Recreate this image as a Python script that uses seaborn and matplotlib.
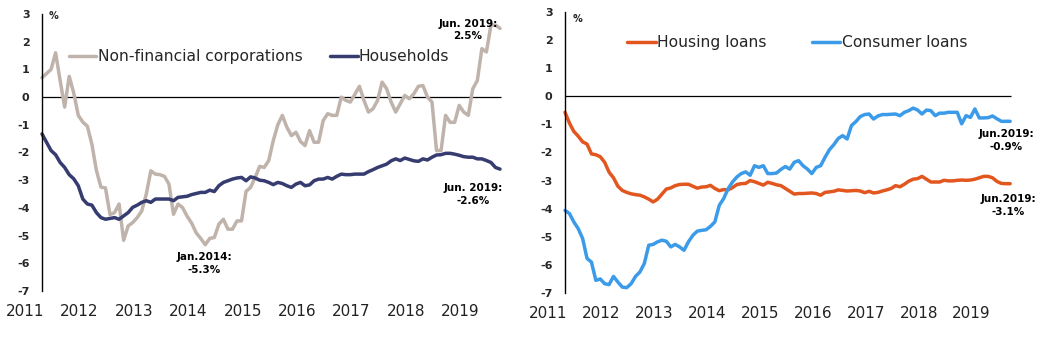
import matplotlib
matplotlib.use("Agg")
import matplotlib.pyplot as plt
import seaborn as sns
import numpy as np
import pandas as pd

# ---------------- data (monthly, Jan 2011 - Jun 2019) ----------------
years = ["2011", "2012", "2013", "2014", "2015", "2016", "2017", "2018", "2019"]

nfc = [0.70, 0.85, 1.00, 1.60, 0.60, -0.36, 0.75, 0.15, -0.66, -0.90,
       -1.05, -1.70, -2.65, -3.25, -3.28, -4.24, -4.17, -3.86, -5.17, -4.65,
       -4.53, -4.35, -4.11, -3.50, -2.66, -2.78, -2.80, -2.86, -3.14, -4.23,
       -3.86, -3.99, -4.30, -4.55, -4.90, -5.10, -5.33, -5.10, -5.07, -4.59,
       -4.41, -4.77, -4.77, -4.47, -4.47, -3.40, -3.26, -2.90, -2.50, -2.54,
       -2.29, -1.57, -1.00, -0.66, -1.09, -1.39, -1.27, -1.60, -1.75, -1.21,
       -1.63, -1.63, -0.85, -0.60, -0.66, -0.66, 0.00, -0.12, -0.18, 0.10,
       0.39, -0.12, -0.54, -0.42, -0.12, 0.54, 0.30, -0.18, -0.54, -0.24,
       0.06, -0.06, 0.12, 0.39, 0.42, 0.00, -0.18, -1.93, -1.93, -0.66,
       -0.91, -0.91, -0.30, -0.54, -0.66, 0.30, 0.60, 1.75, 1.63, 2.60,
       2.60, 2.48]

households = [-1.33, -1.63, -1.93, -2.08, -2.36, -2.54, -2.80, -2.95, -3.20, -3.68,
              -3.86, -3.90, -4.17, -4.35, -4.41, -4.38, -4.35, -4.41, -4.29, -4.17,
              -3.98, -3.90, -3.80, -3.74, -3.80, -3.68, -3.68, -3.68, -3.68, -3.74,
              -3.62, -3.60, -3.58, -3.52, -3.48, -3.44, -3.44, -3.36, -3.41, -3.20,
              -3.08, -3.02, -2.96, -2.92, -2.90, -3.02, -2.88, -2.92, -3.00, -3.02,
              -3.08, -3.16, -3.08, -3.12, -3.20, -3.26, -3.14, -3.08, -3.20, -3.17,
              -3.02, -2.96, -2.96, -2.90, -2.96, -2.86, -2.78, -2.80, -2.80, -2.78,
              -2.78, -2.78, -2.69, -2.62, -2.54, -2.48, -2.42, -2.30, -2.23, -2.29,
              -2.20, -2.25, -2.30, -2.32, -2.23, -2.27, -2.17, -2.09, -2.08, -2.03,
              -2.03, -2.06, -2.10, -2.15, -2.17, -2.17, -2.23, -2.23, -2.29, -2.36,
              -2.54, -2.60]

housing = [-0.57, -0.95, -1.25, -1.42, -1.62, -1.70, -2.05, -2.08, -2.15, -2.35,
           -2.70, -2.90, -3.20, -3.35, -3.42, -3.47, -3.50, -3.52, -3.58, -3.66,
           -3.76, -3.66, -3.48, -3.30, -3.26, -3.18, -3.14, -3.13, -3.13, -3.20,
           -3.27, -3.23, -3.22, -3.17, -3.28, -3.36, -3.32, -3.33, -3.25, -3.14,
           -3.11, -3.10, -3.00, -3.04, -3.10, -3.16, -3.06, -3.10, -3.15, -3.18,
           -3.28, -3.38, -3.48, -3.46, -3.46, -3.45, -3.44, -3.46, -3.52, -3.42,
           -3.40, -3.38, -3.33, -3.35, -3.37, -3.36, -3.35, -3.37, -3.43, -3.38,
           -3.44, -3.42, -3.37, -3.33, -3.28, -3.18, -3.22, -3.13, -3.02, -2.95,
           -2.93, -2.85, -2.95, -3.05, -3.05, -3.05, -2.99, -3.01, -3.01, -2.99,
           -2.98, -2.99, -2.98, -2.95, -2.90, -2.85, -2.85, -2.90, -3.03, -3.10,
           -3.11, -3.11]

consumer = [-4.06, -4.17, -4.47, -4.71, -5.06, -5.77, -5.90, -6.55, -6.50, -6.67,
            -6.70, -6.41, -6.61, -6.79, -6.81, -6.67, -6.41, -6.25, -5.95, -5.30,
            -5.27, -5.18, -5.12, -5.16, -5.36, -5.27, -5.36, -5.48, -5.18, -4.95,
            -4.80, -4.77, -4.75, -4.63, -4.47, -3.88, -3.64, -3.29, -3.05, -2.87,
            -2.75, -2.69, -2.81, -2.47, -2.53, -2.47, -2.75, -2.75, -2.73, -2.60,
            -2.50, -2.59, -2.35, -2.29, -2.47, -2.59, -2.75, -2.53, -2.47, -2.17,
            -1.90, -1.72, -1.50, -1.40, -1.52, -1.04, -0.90, -0.72, -0.65, -0.63,
            -0.81, -0.70, -0.65, -0.65, -0.64, -0.63, -0.69, -0.57, -0.51, -0.42,
            -0.49, -0.63, -0.49, -0.51, -0.69, -0.60, -0.60, -0.57, -0.57, -0.57,
            -0.98, -0.69, -0.75, -0.45, -0.77, -0.77, -0.76, -0.70, -0.80, -0.89,
            -0.89, -0.89]

# ---------------- style ----------------
sns.set_style("white")
plt.rcParams["font.family"] = ["DejaVu Sans"]

C_NFC = "#bfb3ab"
C_HH = "#363b70"
C_HOUS = "#e2561f"
C_CONS = "#3c9be9"
LW = 2.5

months = np.arange(len(nfc))
year_pos = [12 * k - 3.75 for k in range(len(years))]

fig = plt.figure(figsize=(10.42, 3.41), dpi=100)
ax1 = fig.add_axes([0, 1 - 291 / 341, 505 / 1042, 277 / 341])
ax2 = fig.add_axes([530 / 1042, 1 - 293 / 341, 485 / 1042, 281 / 341])

df_left = pd.DataFrame({"month": months, "Non-financial corporations": nfc,
                        "Households": households})
df_right = pd.DataFrame({"month": months, "Housing loans": housing,
                         "Consumer loans": consumer})

sns.lineplot(data=df_left, x="month", y="Non-financial corporations", ax=ax1,
             color=C_NFC, linewidth=LW, label="Non-financial corporations")
sns.lineplot(data=df_left, x="month", y="Households", ax=ax1,
             color=C_HH, linewidth=LW, label="Households")
sns.lineplot(data=df_right, x="month", y="Housing loans", ax=ax2,
             color=C_HOUS, linewidth=LW, label="Housing loans")
sns.lineplot(data=df_right, x="month", y="Consumer loans", ax=ax2,
             color=C_CONS, linewidth=LW, label="Consumer loans")

for ax, xl in ((ax1, (-9.26, 102.1)), (ax2, (-7.94, 102.1))):
    ax.set_xlim(*xl)
    ax.set_ylim(-7, 3)
    ax.set_facecolor("none")
    ax.hlines(0, months[0], months[-1] + 0.3, color="black", linewidth=0.9, zorder=1)
    for s in ("top", "right", "bottom"):
        ax.spines[s].set_visible(False)
    ax.spines["left"].set_position(("data", 0))
    ax.spines["left"].set_color("black")
    ax.spines["left"].set_linewidth(1.0)
    ax.set_yticks(range(-7, 4))
    ax.set_yticklabels([str(v) for v in range(-7, 4)], fontsize=8, fontweight="bold")
    ax.set_xticks(year_pos)
    ax.set_xticklabels(years, fontsize=11, color="#222222")
    ax.tick_params(axis="y", length=0, pad=9)
    ax.tick_params(axis="x", length=0, pad=9)
    ax.set_xlabel("")
    ax.set_ylabel("")
    ax.grid(False)

ax1.legend(loc="center left", bbox_to_anchor=(0.137, 0.845), ncol=2, frameon=False,
           fontsize=11.2, handlelength=1.75, handletextpad=0.08, columnspacing=1.8,
           borderpad=0, borderaxespad=0)
ax2.legend(loc="center left", bbox_to_anchor=(0.200, 0.89), ncol=2, frameon=False,
           fontsize=11.2, handlelength=1.85, handletextpad=0.08, columnspacing=2.9,
           borderpad=0, borderaxespad=0)

ann = dict(fontsize=7.5, fontweight="bold", ha="center", va="center",
           multialignment="center", linespacing=1.3, color="black")
ax1.text(2.6, 2.93, "%", fontsize=7, fontweight="bold", ha="center", va="center")
ax2.text(2.95, 2.76, "%", fontsize=7, fontweight="bold", ha="center", va="center")
ax1.text(93.9, 2.43, "Jun. 2019:\n2.5%", **ann)
ax1.text(95.0, -3.51, "Jun. 2019:\n-2.6%", **ann)
ax1.text(35.7, -6.01, "Jan.2014:\n-5.3%", **ann)
ax2.text(100.1, -1.57, "Jun.2019:\n-0.9%", **ann)
ax2.text(100.5, -3.88, "Jun.2019:\n-3.1%", **ann)

fig.savefig("out.png", dpi=100)
